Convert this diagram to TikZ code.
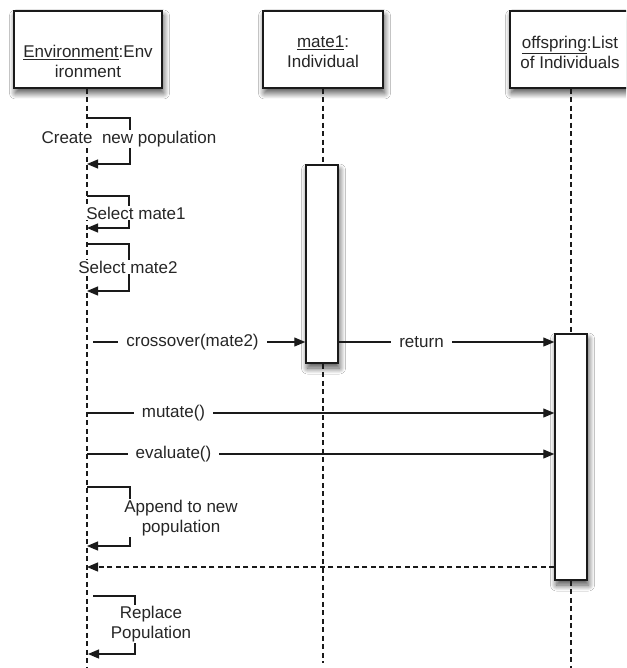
\documentclass[tikz,border=0pt]{standalone}
\usepackage{fontspec}
\setmainfont{Liberation Sans}
\usetikzlibrary{arrows.meta,shadows.blur,calc}
\definecolor{txt}{HTML}{262626}
\definecolor{ln}{HTML}{1A1A1A}
\tikzset{
  boxshadow/.style={blur shadow={shadow xshift=1.5pt, shadow yshift=-5pt, shadow blur steps=12, shadow blur radius=6pt, shadow opacity=70}},
  objbox/.style={draw=ln, line width=1.5pt, fill=white, minimum height=77pt, inner sep=0pt, boxshadow},
  actbox/.style={draw=ln, line width=1.5pt, fill=white, minimum width=32pt, inner sep=0pt, boxshadow},
  objtext/.style={align=center, text=txt, font=\fontsize{17}{20}\selectfont, inner sep=0pt},
  lifeline/.style={draw=ln, line width=1.2pt, dash pattern=on 5pt off 3.5pt},
  msg/.style={draw=ln, line width=1.2pt, -{Triangle[length=11pt,width=9pt]}},
  retmsg/.style={draw=ln, line width=1.2pt, dash pattern=on 5pt off 3.5pt, -{Triangle[length=11pt,width=9pt]}},
  msglabel/.style={fill=white, text=txt, font=\fontsize{17}{20}\selectfont, align=center, inner xsep=8pt, inner ysep=1pt}
}
\begin{document}
\begin{tikzpicture}[x=1pt,y=-1pt]
\useasboundingbox (0,0) rectangle (626,668);
\clip (0,0) rectangle (626,668);
\fill[white] (0,0) rectangle (626,668);

% object boxes
\node[objbox, minimum width=148pt] (env) at (88,49.5) {};
\node[objbox, minimum width=120pt] (mate) at (323,49.5) {};
\node[objbox, minimum width=122pt] (off) at (571,49.5) {};
\node[objtext] (envt) at (88,61.5) {\underline{Environment}:Env\\ironment};
\node[objtext] (matet) at (323,52) {\underline{mate1}:\\Individual};
\node[objtext] (offt) at (570,52) {\underline{offspring}:List\\of Individuals};

% lifeline end points
\coordinate (envend) at (87,668);
\coordinate (mateend) at (323,663);
\coordinate (offend) at (571,668);

% activation boxes
\node[actbox, minimum height=198pt] (act1) at (322,264) {};
\node[actbox, minimum height=246pt] (act2) at (571,457) {};

% lifelines
\draw[lifeline] (env.south -| envend) -- (envend);
\draw[lifeline] (mate.south) -- (act1.north -| mate.south);
\draw[lifeline] (act1.south -| mateend) -- (mateend);
\draw[lifeline] (off.south) -- (act2.north);
\draw[lifeline] (act2.south) -- (offend);

% self messages
\coordinate (ca) at (87,118); \coordinate (cb) at (130,164); \coordinate (cc) at (87,164);
\draw[msg] (ca) -| (cb) -- (cc);
\node[msglabel, inner xsep=1pt] (cl) at (129,139) {Create\ \ new population};

\coordinate (sa) at (87,196); \coordinate (sb) at (129,228); \coordinate (sc) at (87,228);
\draw[msg] (sa) -| (sb) -- (sc);
\node[msglabel, inner xsep=1pt] (sl) at (136,213) {Select mate1};

\coordinate (ta) at (87,244); \coordinate (tb) at (129,291); \coordinate (tc) at (87,291);
\draw[msg] (ta) -| (tb) -- (tc);
\node[msglabel, inner xsep=1pt] (tl) at (128,267) {Select mate2};

% crossover
\coordinate (xa) at (93,342);
\draw[msg] (xa) -- (xa -| act1.west);
\node[msglabel] (xl) at (192.5,342) {crossover(mate2)};

% return
\draw[msg] (xa -| act1.east) -- (xa -| act2.west);
\node[msglabel] (rl) at (421.5,342) {return};

% mutate
\coordinate (ma) at (87,413);
\draw[msg] (ma) -- (ma -| act2.west);
\node[msglabel] (ml) at (173.5,413) {mutate()};

% evaluate
\coordinate (ea) at (87,454);
\draw[msg] (ea) -- (ea -| act2.west);
\node[msglabel] (el) at (173.5,454) {evaluate()};

% append
\coordinate (aa) at (87,487); \coordinate (ab) at (130,546); \coordinate (ac) at (87,546);
\draw[msg] (aa) -| (ab) -- (ac);
\node[msglabel, inner xsep=1pt] (al) at (181,518) {Append to new\\population};

% dashed return
\coordinate (da) at (87,567);
\draw[retmsg] (da -| act2.west) -- (da);

% replace
\coordinate (ra) at (93,596); \coordinate (rb) at (135,654); \coordinate (rc) at (88,654);
\draw[msg] (ra) -| (rb) -- (rc);
\node[msglabel, inner xsep=1pt] (pl) at (151,624) {Replace\\Population};
\end{tikzpicture}
\end{document}
